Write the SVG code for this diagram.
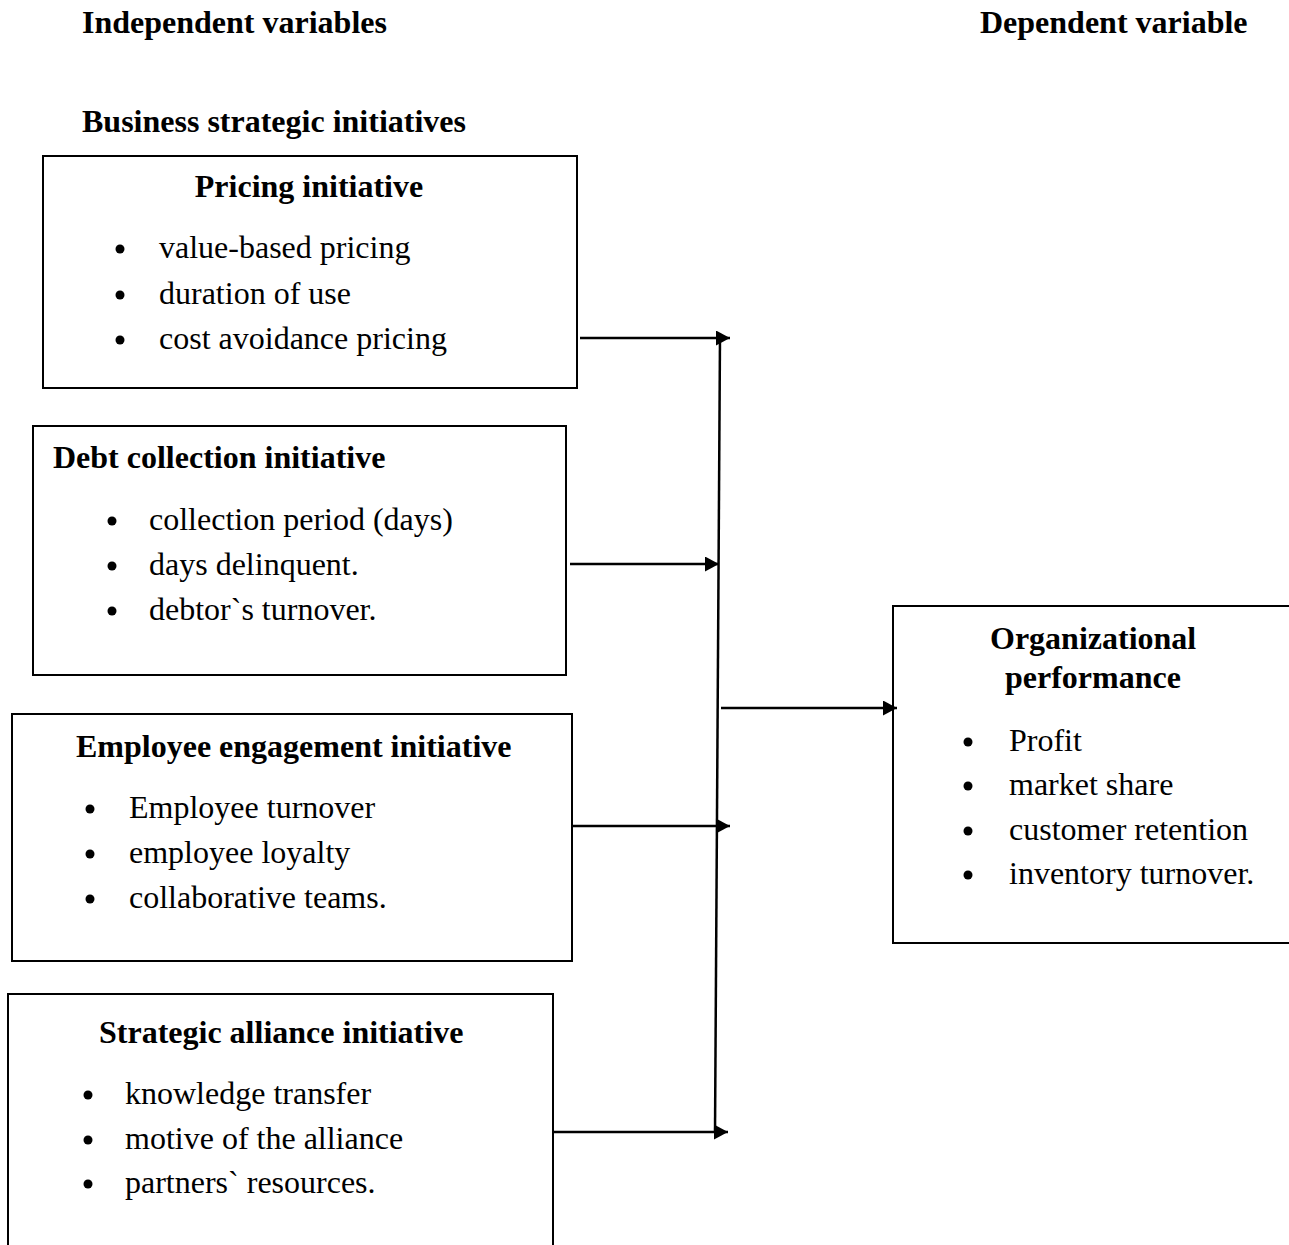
<svg xmlns="http://www.w3.org/2000/svg" width="1289" height="1245" viewBox="0 0 1289 1245">
<style>
text{font-family:"Liberation Serif","Times New Roman",serif;font-size:32px;fill:#000}
.b{font-weight:bold}
.box{fill:#fff;stroke:#000;stroke-width:2}
.ln{stroke:#000;stroke-width:2.5;fill:none}
.dot{fill:#000}
</style>
<defs>
<marker id="ah" viewBox="0 0 14 15" refX="14" refY="7.5" markerWidth="14" markerHeight="15" markerUnits="userSpaceOnUse" orient="auto">
<path d="M0,0 L14,7.5 L0,15 z" fill="#000"/>
</marker>
</defs>
<rect width="1289" height="1245" fill="#fff"/>
<text class="b" x="82" y="33">Independent variables</text>
<text class="b" x="980" y="33">Dependent variable</text>
<text class="b" x="82" y="132">Business strategic initiatives</text>

<g id="pricing">
<rect class="box" x="43" y="156" width="534" height="232"/>
<text class="b" x="309" y="197" text-anchor="middle">Pricing initiative</text>
<circle class="dot" cx="120" cy="249" r="4.5"/><text x="159" y="258">value-based pricing</text>
<circle class="dot" cx="120" cy="295" r="4.5"/><text x="159" y="304">duration of use</text>
<circle class="dot" cx="120" cy="340" r="4.5"/><text x="159" y="349">cost avoidance pricing</text>
</g>

<g id="debt">
<rect class="box" x="33" y="426" width="533" height="249"/>
<text class="b" x="53" y="468">Debt collection initiative</text>
<circle class="dot" cx="112" cy="521" r="4.5"/><text x="149" y="530">collection period (days)</text>
<circle class="dot" cx="112" cy="566" r="4.5"/><text x="149" y="575">days delinquent.</text>
<circle class="dot" cx="112" cy="611" r="4.5"/><text x="149" y="620">debtor`s turnover.</text>
</g>

<g id="employee">
<rect class="box" x="12" y="714" width="560" height="247"/>
<text class="b" x="76" y="757">Employee engagement initiative</text>
<circle class="dot" cx="90" cy="809" r="4.5"/><text x="129" y="818">Employee turnover</text>
<circle class="dot" cx="90" cy="854" r="4.5"/><text x="129" y="863">employee loyalty</text>
<circle class="dot" cx="90" cy="899" r="4.5"/><text x="129" y="908">collaborative teams.</text>
</g>

<g id="alliance">
<rect class="box" x="8" y="994" width="545" height="260"/>
<text class="b" x="99" y="1043">Strategic alliance initiative</text>
<circle class="dot" cx="88" cy="1095" r="4.5"/><text x="125" y="1104">knowledge transfer</text>
<circle class="dot" cx="88" cy="1140" r="4.5"/><text x="125" y="1149">motive of the alliance</text>
<circle class="dot" cx="88" cy="1184" r="4.5"/><text x="125" y="1193">partners` resources.</text>
</g>

<g id="performance">
<rect class="box" x="893" y="606" width="400" height="337"/>
<text class="b" x="990" y="649">Organizational</text>
<text class="b" x="1005" y="688">performance</text>
<circle class="dot" cx="968" cy="742" r="4.5"/><text x="1009" y="751">Profit</text>
<circle class="dot" cx="968" cy="786" r="4.5"/><text x="1009" y="795">market share</text>
<circle class="dot" cx="968" cy="831" r="4.5"/><text x="1009" y="840">customer retention</text>
<circle class="dot" cx="968" cy="875" r="4.5"/><text x="1009" y="884">inventory turnover.</text>
</g>

<g id="connectors">
<line class="ln" x1="720" y1="336" x2="715" y2="1133"/>
<line class="ln" x1="580" y1="338" x2="730" y2="338" marker-end="url(#ah)"/>
<line class="ln" x1="570" y1="564" x2="719" y2="564" marker-end="url(#ah)"/>
<line class="ln" x1="721" y1="708" x2="897" y2="708" marker-end="url(#ah)"/>
<line class="ln" x1="572" y1="826" x2="730" y2="826" marker-end="url(#ah)"/>
<line class="ln" x1="553" y1="1132" x2="728" y2="1132" marker-end="url(#ah)"/>
</g>
</svg>
